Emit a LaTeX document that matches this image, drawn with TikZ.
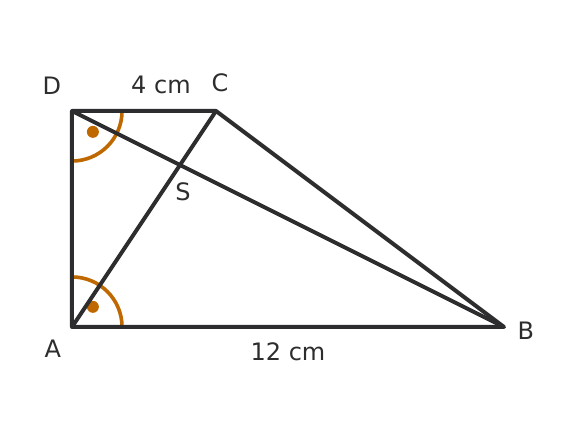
\documentclass[tikz,border=0pt]{standalone}
\usepackage{fontspec}
\setmainfont{DejaVu Sans}
\usetikzlibrary{calc}
\definecolor{edgegray}{RGB}{45,45,48}
\definecolor{markorange}{RGB}{192,104,0}

\begin{document}
\begin{tikzpicture}
[
    x=36pt, y=36pt,
    side/.style={draw=edgegray, line width=4pt, line join=round},
    rightmark/.style={draw=markorange, line width=3.6pt},
    dot/.style={circle, fill=markorange, inner sep=0pt, minimum size=12pt},
    lbl/.style={text=edgegray, font=\fontsize{24}{28}\selectfont, inner sep=0pt},
]
\useasboundingbox (-2,-3.139) rectangle (14,9.083);
\coordinate (A) at (0,0);
\coordinate (B) at (12,0);
\coordinate (C) at (4,6);
\coordinate (D) at (0,6);
\coordinate (S) at (intersection of A--C and D--B);

\draw[rightmark] ($(D)+(1.39,0)$) arc (0:-90:1.39);
\draw[rightmark] ($(A)+(1.39,0)$) arc (0:90:1.39);
\node[dot] (dotD) at ($(D)+(0.58,-0.58)$) {};
\node[dot] (dotA) at ($(A)+(0.58,0.56)$) {};

\draw[side] (A) -- (B) -- (C) -- (D) -- cycle;
\draw[side] (A) -- (C);
\draw[side] (D) -- (B);

\node[lbl] (lA) at (-0.53,-0.61) {A};
\node[lbl] (lB) at (12.61,-0.11) {B};
\node[lbl] (lC) at (4.11,6.78) {C};
\node[lbl] (lD) at (-0.56,6.69) {D};
\node[lbl] (lS) at (3.08,3.75) {S};
\node[lbl] (lDC) at (2.47,6.72) {4 cm};
\node[lbl] (lAB) at (6,-0.69) {12 cm};
\end{tikzpicture}
\end{document}
